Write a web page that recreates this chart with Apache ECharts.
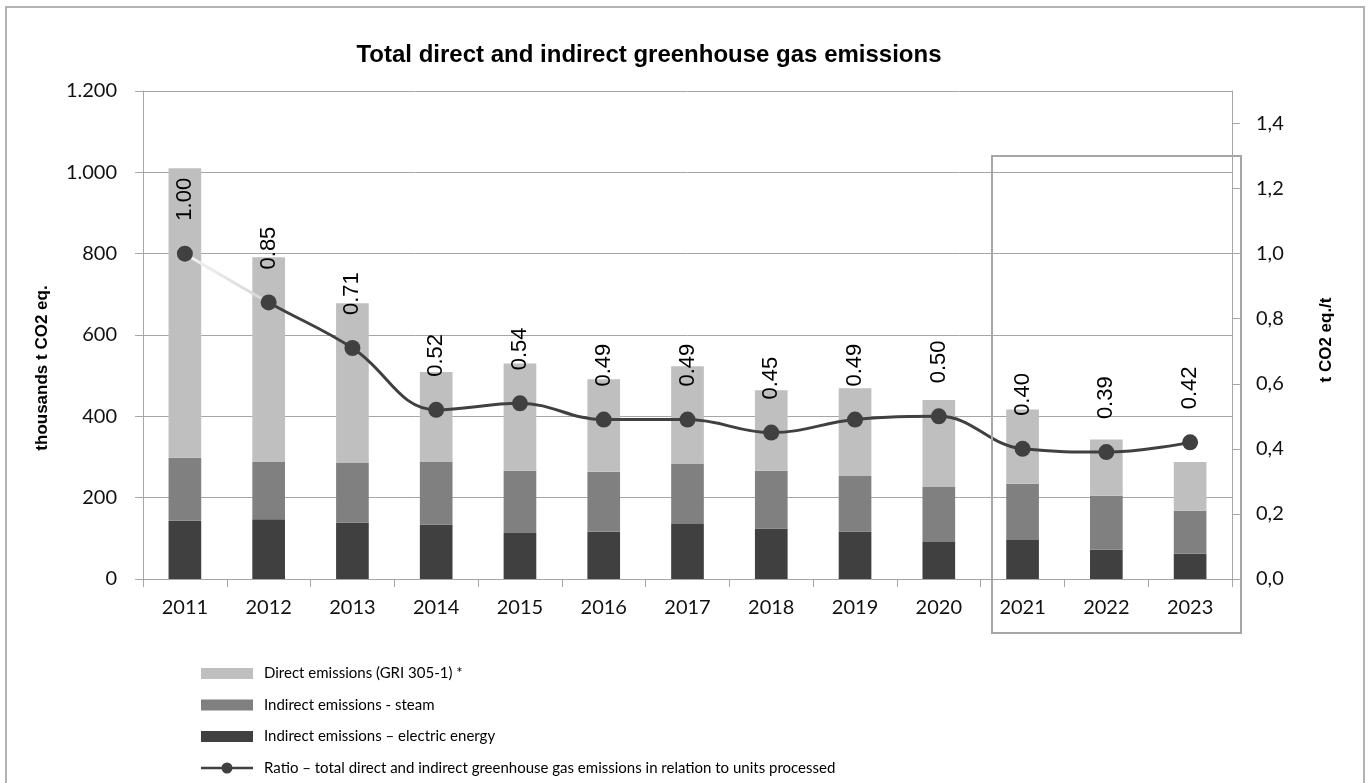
<!DOCTYPE html>
<html><head><meta charset="utf-8">
<script src="https://cdn.jsdelivr.net/npm/echarts@6/dist/echarts.min.js"></script>
<style>html,body{margin:0;padding:0;background:#fff}#c{width:1370px;height:783px}</style>
</head><body><div id="c"></div>
<script>
// ---- data ----
const years = ['2011','2012','2013','2014','2015','2016','2017','2018','2019','2020','2021','2022','2023'];
const directEmissions = [712, 503, 393, 221, 264, 227, 239, 198, 216, 214, 183, 138, 120];
const steamEmissions = [155, 141, 146, 154, 153, 148, 149, 142, 136, 135, 138, 133, 106];
const electricEmissions = [143, 147, 139, 134, 113, 116, 135, 124, 117, 91, 96, 72, 62];
const ratioValues = [1.00, 0.85, 0.71, 0.52, 0.54, 0.49, 0.49, 0.45, 0.49, 0.50, 0.40, 0.39, 0.42];
const seriesNames = ['Direct emissions (GRI 305-1) *', 'Indirect emissions - steam', 'Indirect emissions \u2013 electric energy', 'Ratio \u2013 total direct and indirect greenhouse gas emissions in relation to units processed'];
const titleText = 'Total direct and indirect greenhouse gas emissions';
const leftAxisName = 'thousands t CO2 eq.';
const rightAxisName = 't CO2 eq./t';

const GRID = '#a6a6a6';
const chart = echarts.init(document.getElementById('c'), null, {renderer: 'canvas'});
const n = years.length;
const split = 1 / (n - 1);
const lineIcon = 'path://M0,4.2H52V6.8H0Z M20.5,5.5a5.5,5.5 0 1,1 11,0a5.5,5.5 0 1,1 -11,0Z';

chart.setOption({
  animation: false,
  backgroundColor: '#fff',
  title: {
    text: titleText, left: 644, top: 38, textAlign: 'center',
    textStyle: {fontFamily: 'Liberation Sans', fontWeight: 'bold', fontSize: 24, color: '#000'}
  },
  grid: {left: 143, right: 138, top: 91, bottom: 204, containLabel: false},
  legend: {
    orient: 'vertical', left: 196, top: 661, itemWidth: 52, itemHeight: 11, itemGap: 16.5,
    textStyle: {fontFamily: 'Lato', fontSize: 15, color: '#000', padding: [0, 0, 0, 6]},
    data: [
      {name: seriesNames[0], icon: 'rect'},
      {name: seriesNames[1], icon: 'rect'},
      {name: seriesNames[2], icon: 'rect'},
      {name: seriesNames[3], icon: lineIcon, itemStyle: {color: '#404040'}}
    ]
  },
  xAxis: {
    type: 'category', data: years,
    axisLine: {lineStyle: {color: GRID, width: 1}},
    axisTick: {show: true, length: 8, lineStyle: {color: GRID}},
    axisLabel: {fontFamily: 'Lato', fontSize: 20, color: '#111', margin: 19}
  },
  yAxis: [
    {
      type: 'value', min: 0, max: 1200, interval: 200, position: 'left',
      name: leftAxisName, nameLocation: 'middle', nameGap: 92,
      nameTextStyle: {fontFamily: 'Liberation Sans', fontWeight: 'bold', fontSize: 17, color: '#000', padding: [0, 66, 0, 0]},
      axisLine: {show: true, lineStyle: {color: GRID}},
      axisTick: {show: true, length: 8, lineStyle: {color: GRID}},
      splitLine: {show: true, lineStyle: {color: GRID, width: 1}},
      axisLabel: {
        fontFamily: 'Lato', fontSize: 20, color: '#111', margin: 26,
        formatter: v => String(v).replace(/\B(?=(\d{3})+(?!\d))/g, '.')
      }
    },
    {
      type: 'value', min: 0, max: 1.5, interval: 0.2, position: 'right',
      name: rightAxisName, nameLocation: 'middle', nameGap: 86,
      nameTextStyle: {fontFamily: 'Liberation Sans', fontWeight: 'bold', fontSize: 17, color: '#000', padding: [0, 10, 0, 0]},
      axisLine: {show: true, lineStyle: {color: GRID}},
      axisTick: {show: true, length: 8, lineStyle: {color: GRID}},
      splitLine: {show: false},
      axisLabel: {
        fontFamily: 'Lato', fontSize: 20, color: '#111', margin: 24, showMaxLabel: false,
        formatter: v => (v > 1.45 ? '' : v.toFixed(1).replace('.', ','))
      }
    }
  ],
  series: [
    {name: seriesNames[2], type: 'bar', stack: 'em', data: electricEmissions, barWidth: '39%',
     itemStyle: {color: '#404040'}},
    {name: seriesNames[1], type: 'bar', stack: 'em', data: steamEmissions, barWidth: '39%',
     itemStyle: {color: '#808080'}},
    {name: seriesNames[0], type: 'bar', stack: 'em', data: directEmissions, barWidth: '39%',
     itemStyle: {color: '#bfbfbf'}},
    {
      name: seriesNames[3], type: 'line', yAxisIndex: 1, data: ratioValues, smooth: 0.4,
      symbol: 'circle', symbolSize: 16,
      itemStyle: {color: '#404040'},
      lineStyle: {
        width: 3,
        color: {type: 'linear', x: 0, y: 0, x2: 1, y2: 0, colorStops: [
          {offset: 0, color: '#f4f4f4'}, {offset: split * 0.999, color: '#d6d6d6'},
          {offset: split, color: '#404040'}, {offset: 1, color: '#404040'}
        ]}
      },
      label: {
        show: true, position: 'top', distance: 25, rotate: 90, align: 'left', verticalAlign: 'middle',
        fontFamily: 'Liberation Sans', fontSize: 22, color: '#000',
        formatter: p => p.value.toFixed(2)
      },
      z: 5
    }
  ],
  graphic: [
    {type: 'rect', shape: {x: 6, y: 7, width: 1358, height: 800}, style: {fill: 'none', stroke: '#b3b3b3', lineWidth: 2}, silent: true, z: -1},
    {type: 'rect', shape: {x: 992, y: 156, width: 249, height: 477}, style: {fill: 'none', stroke: '#a6a6a6', lineWidth: 2}, silent: true, z: 10}
  ]
});
</script></body></html>
